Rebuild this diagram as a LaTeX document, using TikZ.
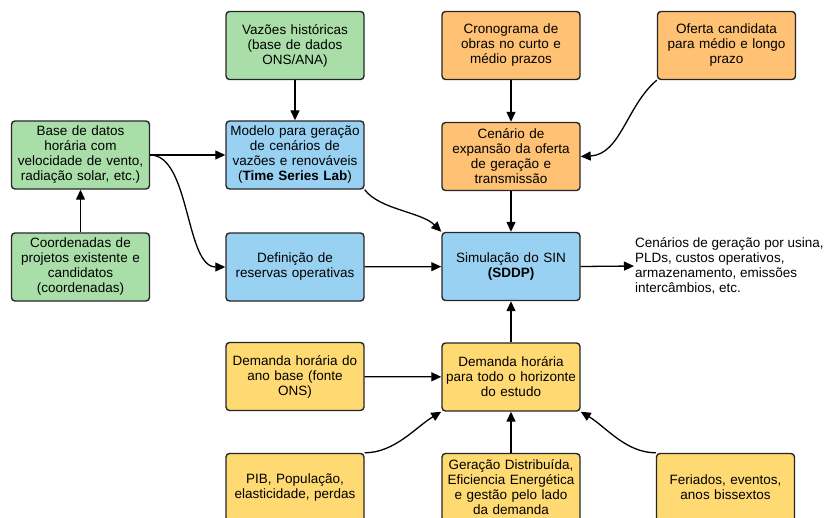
\documentclass[tikz,border=0pt]{standalone}
\usepackage{fontspec}
\setmainfont{Liberation Sans}
\usetikzlibrary{arrows.meta}
\definecolor{verde}{RGB}{169,222,169}
\definecolor{azul}{RGB}{153,209,243}
\definecolor{laranja}{RGB}{255,193,115}
\definecolor{amarelo}{RGB}{255,218,115}
\begin{document}
\begin{tikzpicture}[x=1pt, y=-1pt, font=\fontsize{13.5}{15}\selectfont,
    caixa/.style={draw=black!85, line width=1.4pt, rounded corners=3.5pt, align=center,
      text width=134pt, inner sep=2pt, minimum width=138pt, minimum height=68pt},
    seta/.style={-{Triangle[length=10pt, width=9pt]}, line width=1.3pt, black}]
  \clip (0,0) rectangle (827,517);
  % dados de entrada
  \node[caixa, fill=verde] (vazoes) at (295,45.5) {Vazões históricas\\(base de dados\\ONS/ANA)};
  \node[caixa, fill=verde] (base) at (80.5,155) {Base de datos\\horária com\\velocidade de vento,\\radiação solar, etc.)};
  \node[caixa, fill=verde] (coord) at (80.5,267) {Coordenadas de\\projetos existente e\\candidatos\\(coordenadas)};
  % modelos
  \node[caixa, fill=azul] (modelo) at (295,155) {Modelo para geração\\de cenários de\\vazões e renováveis\\(\textbf{Time Series Lab})};
  \node[caixa, fill=azul] (defin) at (295,267) {Definição de\\reservas operativas};
  \node[caixa, fill=azul] (sim) at (511,266.5) {Simulação do SIN\\\textbf{(SDDP)}};
  % oferta
  \node[caixa, fill=laranja] (crono) at (511,45.5) {Cronograma de\\obras no curto e\\médio prazos};
  \node[caixa, fill=laranja] (oferta) at (726.5,45.5) {Oferta candidata\\para médio e longo\\prazo};
  \node[caixa, fill=laranja] (cenario) at (511,156.5) {Cenário de\\expansão da oferta\\de geração e\\transmissão};
  % demanda
  \node[caixa, fill=amarelo] (dembase) at (295,376.5) {Demanda horária do\\ano base (fonte\\ONS)};
  \node[caixa, fill=amarelo] (demhor) at (511,377) {Demanda horária\\para todo o horizonte\\do estudo};
  \node[caixa, fill=amarelo] (pib) at (295,487.5) {PIB, População,\\elasticidade, perdas};
  \node[caixa, fill=amarelo] (gerdist) at (511,487.5) {Geração Distribuída,\\Eficiencia Energética\\e gestão pelo lado\\da demanda};
  \node[caixa, fill=amarelo] (feriados) at (725.5,487.5) {Feriados, eventos,\\anos bissextos};
  % resultados
  \node[align=left, anchor=west, inner sep=1pt] (saida) at (634,266) {Cenários de geração por usina,\\PLDs, custos operativos,\\armazenamento, emissões\\intercâmbios, etc.};
  % ligacoes
  \draw[seta] (vazoes) -- (modelo);
  \draw[seta] (coord) -- (base);
  \draw[seta] (base.east) -- (modelo.west);
  \draw[seta] (base.east) .. controls +(40,0) and +(-40,0) .. (defin.west);
  \draw[seta] (modelo.south east) .. controls +(15,20) and +(-20,-20) .. (sim.north west);
  \draw[seta] (defin) -- (sim);
  \draw[seta] (crono) -- (cenario);
  \draw[seta] (oferta.south west) .. controls +(-30,25) and +(40,-2) .. (cenario.east);
  \draw[seta] (cenario) -- (sim);
  \draw[seta] (sim.east) -- (saida.west);
  \draw[seta] (dembase) -- (demhor);
  \draw[seta] (pib.north east) .. controls +(30,0) and +(-25,15) .. (demhor.south west);
  \draw[seta] (gerdist) -- (demhor);
  \draw[seta] (feriados.north west) .. controls +(-30,0) and +(25,15) .. (demhor.south east);
  \draw[seta] (demhor) -- (sim);
\end{tikzpicture}
\end{document}
